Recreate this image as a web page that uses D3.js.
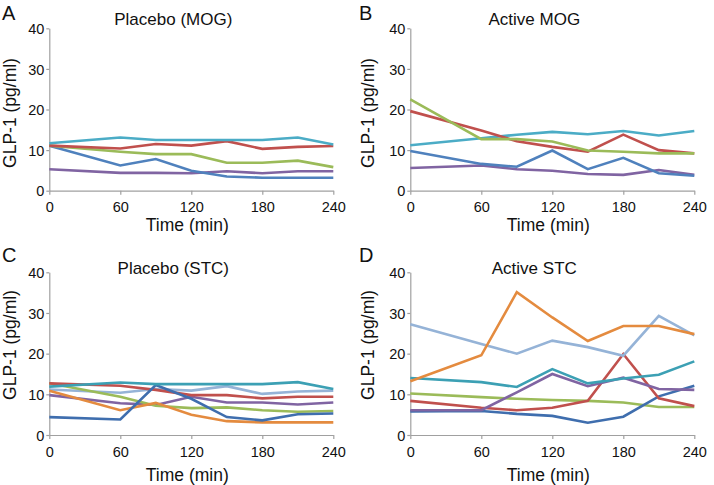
<!DOCTYPE html>
<html><head><meta charset="utf-8">
<script src="https://cdn.jsdelivr.net/npm/d3@7"></script>
<style>
html,body{margin:0;padding:0;background:#fff;}
svg{display:block;font-family:"Liberation Sans",Arial,sans-serif;}
</style></head>
<body>
<svg id="chart" width="714" height="485"></svg>
<script>
const times = [0, 60, 90, 120, 150, 180, 210, 240];
const xTicks = [0, 60, 120, 180, 240];
const yTicks = [0, 10, 20, 30, 40];
const panelLetters = ["A", "B", "C", "D"];
const panelTitles = ["Placebo (MOG)", "Active MOG", "Placebo (STC)", "Active STC"];
const xLabel = "Time (min)";
const yLabel = "GLP-1 (pg/ml)";

// Panel A
const aPurple = [5.3, 4.4, 4.4, 4.3, 4.8, 4.3, 4.8, 4.8];
const aBlue   = [11.1, 6.2, 7.8, 4.9, 3.5, 3.2, 3.2, 3.2];
const aGreen  = [11.1, 9.6, 9.0, 9.0, 6.9, 6.9, 7.4, 5.8];
const aRed    = [11.1, 10.4, 11.5, 11.1, 12.2, 10.3, 10.8, 11.0];
const aTeal   = [11.7, 13.1, 12.5, 12.5, 12.5, 12.5, 13.1, 11.4];
// Panel B
const bPurple = [5.6, 6.2, 5.3, 4.9, 4.1, 3.9, 5.1, 3.9];
const bBlue   = [9.8, 6.6, 5.9, 9.9, 5.3, 8.1, 4.3, 3.7];
const bTeal   = [11.2, 12.9, 13.8, 14.5, 13.9, 14.7, 13.6, 14.7];
const bRed    = [19.6, 14.8, 12.2, 10.8, 9.6, 13.8, 10.0, 9.2];
const bGreen  = [22.5, 12.7, 12.7, 12.1, 9.9, 9.6, 9.2, 9.2];
// Panel C
const cLight  = [11.2, 10.4, 11.3, 10.9, 12.0, 10.1, 10.7, 10.9];
const cPurple = [9.8, 7.8, 7.4, 9.4, 8.0, 8.0, 7.5, 8.0];
const cGreen  = [12.7, 9.4, 7.2, 6.6, 6.8, 6.1, 5.7, 5.9];
const cRed    = [12.7, 12.1, 11.1, 9.8, 9.8, 9.0, 9.4, 9.4];
const cOrange = [10.9, 6.1, 7.9, 5.0, 3.4, 3.1, 3.1, 3.1];
const cBlue   = [4.4, 3.8, 12.3, 8.9, 4.4, 3.6, 5.1, 5.3];
const cTeal   = [11.9, 12.9, 12.5, 12.5, 12.5, 12.5, 13.0, 11.3];
// Panel D
const dGreen  = [10.2, 9.3, 8.9, 8.6, 8.4, 8.0, 6.9, 6.9];
const dBlue   = [5.8, 5.9, 5.2, 4.7, 3.0, 4.5, 9.5, 12.1];
const dRed    = [8.4, 6.7, 6.1, 6.7, 8.4, 19.9, 9.0, 7.1];
const dPurple = [6.1, 6.1, 10.5, 15.0, 12.0, 14.1, 11.3, 11.1];
const dTeal   = [14.0, 13.0, 11.8, 16.2, 12.7, 13.9, 14.8, 18.1];
const dLight  = [27.2, 22.4, 20.0, 23.2, 21.6, 19.5, 29.3, 24.5];
const dOrange = [13.2, 19.6, 35.1, 28.9, 23.1, 26.8, 26.8, 24.8];

const C = {teal:"#4BACC6", red:"#C0504D", green:"#9BBB59", blue:"#4F81BD",
           purple:"#8064A2", orange:"#E48B3F", light:"#95B3D7",
           tealD:"#3CA0B4", blueD:"#3F6EAE"};

const panels = [
  {series:[[aPurple,C.purple],[aBlue,C.blue],[aGreen,C.green],[aRed,C.red],[aTeal,C.teal]],
   x0:49.3, x1:333.3, yTop:28.3, yBot:190.7, letterX:2, letterY:20, titleY:25, xlabY:231, ylabX:16, ylabY:113},
  {series:[[bPurple,C.purple],[bBlue,C.blue],[bTeal,C.teal],[bRed,C.red],[bGreen,C.green]],
   x0:410.3, x1:694.3, yTop:28.3, yBot:190.7, letterX:359, letterY:20, titleY:25, xlabY:231, ylabX:374, ylabY:113},
  {series:[[cLight,C.light],[cPurple,C.purple],[cGreen,C.green],[cRed,C.red],[cOrange,C.orange],[cBlue,C.blueD],[cTeal,C.tealD]],
   x0:49.3, x1:333.3, yTop:272.3, yBot:435, letterX:2, letterY:262, titleY:274, xlabY:481, ylabX:16, ylabY:345},
  {series:[[dGreen,C.green],[dBlue,C.blueD],[dRed,C.red],[dPurple,C.purple],[dTeal,C.tealD],[dLight,C.light],[dOrange,C.orange]],
   x0:410.3, x1:694.3, yTop:272.3, yBot:435, letterX:359, letterY:262, titleY:274, xlabY:481, ylabX:374, ylabY:345}
];

const svg = d3.select("#chart");
const axisColor = "#a0a0a0";

panels.forEach((p, i) => {
  const x = d3.scaleLinear().domain([0, 240]).range([p.x0, p.x1]);
  const y = d3.scaleLinear().domain([0, 40]).range([p.yBot, p.yTop]);
  const g = svg.append("g");

  const xa = g.append("g").attr("transform", `translate(0,${p.yBot})`)
    .call(d3.axisBottom(x).tickValues(xTicks).tickSizeInner(4).tickSizeOuter(0).tickPadding(4));
  const ya = g.append("g").attr("transform", `translate(${p.x0},0)`)
    .call(d3.axisLeft(y).tickValues(yTicks).tickSizeInner(3).tickSizeOuter(0).tickPadding(2));
  [xa, ya].forEach(a => {
    a.select(".domain").attr("stroke", axisColor).attr("stroke-width", 1.2);
    a.selectAll(".tick line").attr("stroke", axisColor).attr("stroke-width", 1.2);
    a.selectAll(".tick text").attr("fill", "#111").style("font-size", "14.5px")
      .style("font-family", "'Liberation Sans', Arial, sans-serif");
  });
  xa.selectAll(".tick text").attr("dy", "0.95em");
  ya.selectAll(".tick text").attr("dy", "0.36em");

  const line = d3.line().x((d, k) => x(times[k])).y(d => y(d));
  p.series.forEach(([vals, col]) => {
    g.append("path").datum(vals).attr("d", line)
      .attr("fill", "none").attr("stroke", col).attr("stroke-width", 2.6)
      .attr("stroke-linejoin", "miter");
  });

  g.append("text").attr("x", p.letterX).attr("y", p.letterY)
    .style("font-size", "20px").attr("fill", "#111").text(panelLetters[i]);
  g.append("text").attr("x", (p.x0 + p.x1) / 2 - 18).attr("y", p.titleY)
    .attr("text-anchor", "middle").style("font-size", "17px").attr("fill", "#111").text(panelTitles[i]);
  g.append("text").attr("x", (p.x0 + p.x1) / 2 - 4).attr("y", p.xlabY)
    .attr("text-anchor", "middle").style("font-size", "17.5px").attr("fill", "#111").text(xLabel);
  g.append("text").attr("transform", `translate(${p.ylabX},${p.ylabY}) rotate(-90)`)
    .attr("text-anchor", "middle").style("font-size", "17.5px").attr("fill", "#111").text(yLabel);
});
</script>
</body></html>
